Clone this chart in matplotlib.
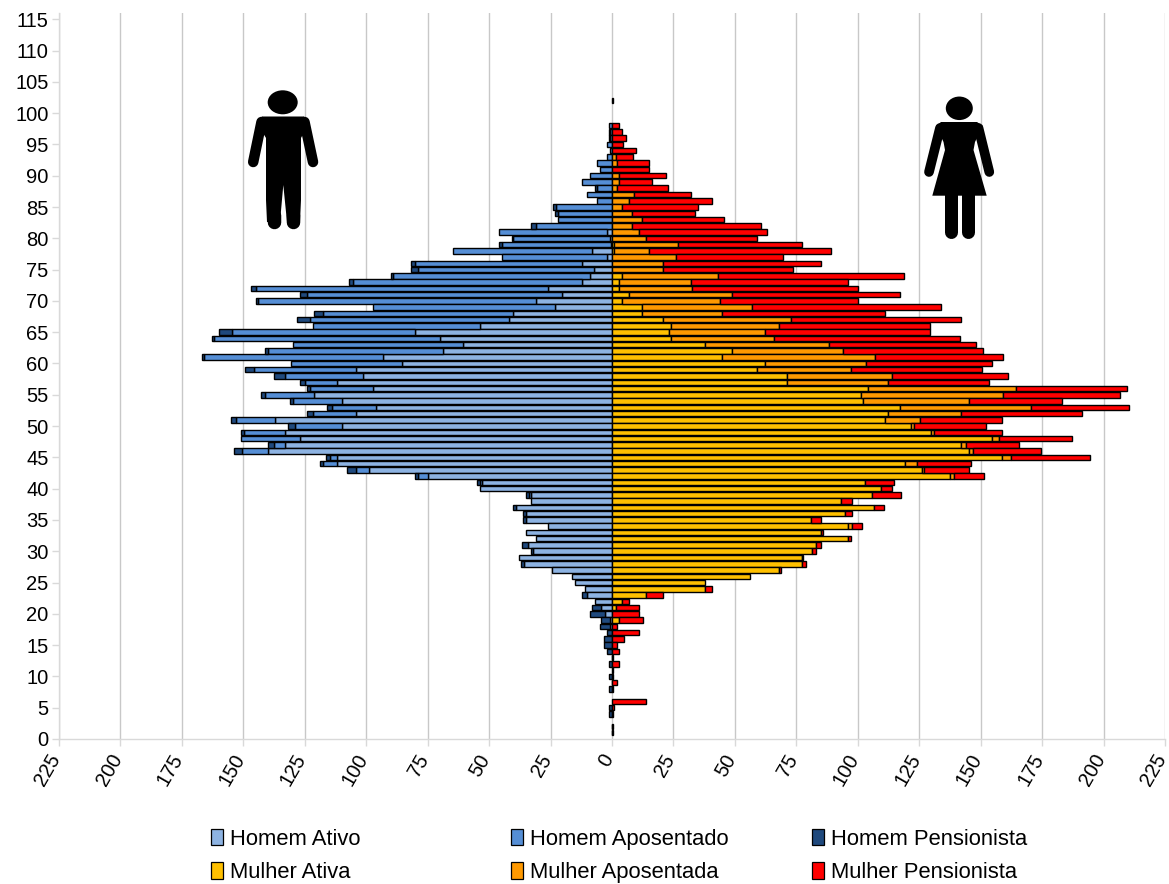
import numpy as np
import matplotlib
matplotlib.use("Agg")
import matplotlib.pyplot as plt
from matplotlib.patches import Ellipse, Polygon, Patch
from matplotlib.transforms import ScaledTranslation

plt.rcParams['font.family'] = ['Liberation Sans', 'DejaVu Sans']

ages = list(range(102, 0, -1))
x_tick_values = list(range(-225, 226, 25))
x_tick_labels = [str(abs(v)) for v in x_tick_values]
y_tick_values = list(range(0, 116, 5))

homem_ativo = [0,0,0,0, 0,0,0,0,0,0,0,0,0,0,0,0,0, 0,0,0,0,
    1.9,1,0.3,8.3,1.9,12.2,7.2,8.8,12.2,25.9,20.3,31,23,40.1,41.8,53.7,80.1,69.8,60.6,68.8,93.2,85.3,
    104,101.2,111.9,97.1,121.1,109.7,96.1,104,137.1,109.7,133,126.8,133,139.8,111.9,111.9,98.9,74.7,52.8,53.8,
    32.8,33.1,39,35.1,35.1,26,35.1,31,34,32,37.8,36,24.3,16.3,15,11.1,10,7,4.6,3,0.8,0.8,
    0,0,0,0,0,0,0,0,0,0,0,0,0,0,0,0,0]
homem_aposentado = [0,0,0,0, 1.1,0.8,0.9,2.2,1,2.2,6,4.9,8.8,12.2,6,10,6, 22.9,21.8,22.1,31,
    43.9,39.1,44.3,56.5,42.9,67.8,71.7,80.2,93,118.9,103.7,112.9,74.2,77.5,80.9,67.9,74.5,92.1,69,71.2,72.8,45.4,
    41.6,31.8,13.1,25.8,19.9,19.9,17.7,17.5,15.9,19.4,16.6,24,4.5,10.9,2.8,5.7,5.1,4.1,1.1,0,
    1,0,0,0,0,0,0,0,0,0,0,0,0,0,0,0,0,0,0,0,0,0,
    0,0,0,0,0,0,0,0,0,0,0,0,0,0,0,0,0]
homem_pensionista = [0,0,0,0, 0,0.3,0.2,0,0,0,0,0,0,0,1,0,0, 1.2,1.2,0,1.8,
    0,0.7,1.2,0,0,1.9,3,0.8,1.7,1.9,2.8,1.1,0,3.5,5.3,0,5.3,0.8,0,1,0.8,0,
    3.6,4.6,1.8,1.1,1.7,1.3,2.3,2.5,1.9,2.9,1.2,0,2.5,3.3,1.5,1.3,4,1.3,1.1,0,
    1,0,1.1,1.1,1.1,0,0,0,2.8,1,0,0.9,0,0,0,0,2.3,0,3.7,5.8,3.5,3.9,
    2,3.1,3.1,2,0.2,1.1,0,1.1,0.2,1.1,0,0,1.1,1.1,0,0.2,0.2]

mulher_ativa = [0,0,0,0, 0,0,0,0,0,0,0,0,0,0,0,0,0, 0,0,0,0,
    0,0,1,1,0,0,0,3.9,3,3,7,4.2,12.2,12.2,20.8,24.1,23.1,24.1,37.9,48.7,44.9,62.1,
    59.1,71,71,104.2,101.3,102,117.3,112.3,111,121.5,129.6,154.6,141.9,145.3,158.5,119.2,126,137.4,103.1,109.3,
    105.6,93.2,106.7,94.8,81.1,96,85,95.9,82.9,81.5,77.2,77.2,67.9,56.1,37.7,37.7,13.7,3.9,1.8,0,3,0,
    0,0,0,0,0,0,0,0,0,0,0,0,0,0,0,0,0]
mulher_aposentada = [0,0,0,0, 0,0,0,0,0,1.6,1.9,0,3,3,1.9,8.8,7, 4.2,8.1,12.2,8.1,
    11.1,13.8,26,14,25.9,20.7,20.7,39.1,29.1,29.5,41.9,39.9,44.7,32.7,52,44,39,41.9,50.3,45.3,62.2,41.2,
    38.3,43,41.3,60.1,57.9,43.3,53.3,29.6,14.3,1.5,1.4,2.8,2.3,1.7,4,5,1,1.7,0,0,
    0,0,0,0,0,1.6,0,0,0,0,0,0,0,0,0,0,0,0,0,0,0,0,
    0,0,0,0,0,0,0,0,0,0,0,0,0,0,0,0,0]
mulher_pensionista = [0.6,0,0,0, 3,4.2,5.8,4.6,9.9,7.1,13,14.9,18.8,13.1,21,23.3,33.5, 30.7,25.7,33.5,52.4,
    51.8,45.1,50.2,74.1,43.7,64.3,53.1,75.7,63.8,67.5,68.4,56.1,77,66.1,69,61.2,67.2,75.4,60.1,57,52,51.2,
    53.1,47.3,41.1,45.1,47.4,37.8,39.9,49.2,33.2,29.2,27.5,29.8,21.2,27.5,32,21.8,18.4,12.1,11.8,4.7,
    12,4.4,4.1,2.8,3.9,4,0.7,1.2,2.3,1.4,0.6,1.6,0.7,0,0,2.8,7,3,9.3,11.1,9.7,1.9,
    11.1,4.7,1.9,3,0.3,3,0.3,0.5,1.9,0.3,0,13.8,1,0.5,0,0.5,0.5]

male_series = [("Homem Ativo", homem_ativo, "#8DB3E2"),
               ("Homem Aposentado", homem_aposentado, "#558ED5"),
               ("Homem Pensionista", homem_pensionista, "#1F497D")]
female_series = [("Mulher Ativa", mulher_ativa, "#FFC000"),
                 ("Mulher Aposentada", mulher_aposentada, "#FF9900"),
                 ("Mulher Pensionista", mulher_pensionista, "#FF0000")]

W, H = 1169, 884
fig = plt.figure(figsize=(W / 100, H / 100), dpi=100)
ax = fig.add_axes([59 / W, 1 - 739 / H, (1165 - 59) / W, (739 - 13) / H])
ax.set_xlim(-225, 225)
ax.set_ylim(0, 116)
ax.set_axisbelow(True)
ax.xaxis.grid(True, color="#c8c8c8", lw=1.0)
ax.yaxis.grid(False)

y = np.array(ages, dtype=float)
for sign, group in ((-1, male_series), (1, female_series)):
    base = np.zeros(len(y))
    for name, vals, col in group:
        vals = np.array(vals, dtype=float)
        m = vals > 0
        ax.barh(y[m], sign * vals[m], left=sign * base[m], height=0.88,
                color=col, edgecolor="black", linewidth=1.0, zorder=3)
        base += vals

ax.set_xticks(x_tick_values)
ax.set_xticklabels(x_tick_labels, rotation=60, ha="right", va="center",
                   rotation_mode="anchor", fontsize=14.5)
ax.set_yticks(y_tick_values)
ax.set_yticklabels([str(v) for v in y_tick_values], fontsize=14.5)
ax.tick_params(axis="both", color="#d9d9d9", length=5, width=1)
ax.tick_params(axis="y", pad=2.5)
ax.tick_params(axis="x", pad=7)
# move the rotated labels slightly left of their ticks (after tick_params, which resets transforms)
shift = ScaledTranslation(-0.03, 0, fig.dpi_scale_trans)
for lab in ax.get_xticklabels():
    lab.set_transform(lab.get_transform() + shift)
for s in ("top", "right"):
    ax.spines[s].set_visible(False)
for s in ("left", "bottom"):
    ax.spines[s].set_color("#d9d9d9")
    ax.spines[s].set_linewidth(1)

# silhouettes, in pixel coordinates
ov = fig.add_axes([0, 0, 1, 1], zorder=5)
ov.set_xlim(0, W)
ov.set_ylim(H, 0)
ov.axis("off")
ov.patch.set_alpha(0)
px = 0.72


def limb(xs, ys, w):
    ov.plot(xs, ys, color="black", lw=w * px, solid_capstyle="round")


# man
ov.add_patch(Ellipse((282.7, 102.3), 30, 24, color="black", lw=0))
ov.add_patch(Polygon([(262, 116.5), (304, 116.5), (309, 123), (301, 138), (301, 200), (300, 222), (287, 222),
                      (283.3, 185), (280, 222), (267, 222), (266, 200), (266, 138), (257, 123)],
                     closed=True, color="black", lw=0))
limb([261.5, 253.2], [122, 162], 10.5)
limb([304.5, 313], [122, 162], 10.5)
limb([273.5, 273.5], [215, 222], 13.5)
limb([293.3, 293.3], [215, 222], 13.5)

# woman
ov.add_patch(Ellipse((959.3, 108.3), 27, 23.5, color="black", lw=0))
ov.add_patch(Polygon([(941, 122), (977, 122), (983, 126), (975, 142), (973.5, 150), (986.7, 195.7),
                      (932.3, 195.7), (945, 150), (943.5, 142), (936, 126)], closed=True, color="black", lw=0))
limb([940, 929], [128, 172], 9.7)
limb([978.5, 989.3], [128, 172], 9.7)
limb([951, 951], [190, 232], 13)
limb([968, 968], [190, 232], 13)

# legend: one column block per status
columns = [(male_series[0], female_series[0], 204), (male_series[1], female_series[1], 504),
           (male_series[2], female_series[2], 805)]
for top, bottom, x0 in columns:
    handles = [Patch(facecolor=s[2], edgecolor="black", linewidth=0.9) for s in (top, bottom)]
    fig.legend(handles, [top[0], bottom[0]], loc="upper left",
               bbox_to_anchor=(x0 / W, 1 - 822 / H), bbox_transform=fig.transFigure,
               frameon=False, fontsize=15.8, ncol=1, handlelength=0.55, handleheight=0.8,
               handletextpad=0.34, labelspacing=0.58, borderpad=0.3, borderaxespad=0)

fig.savefig("out.png", dpi=100)
